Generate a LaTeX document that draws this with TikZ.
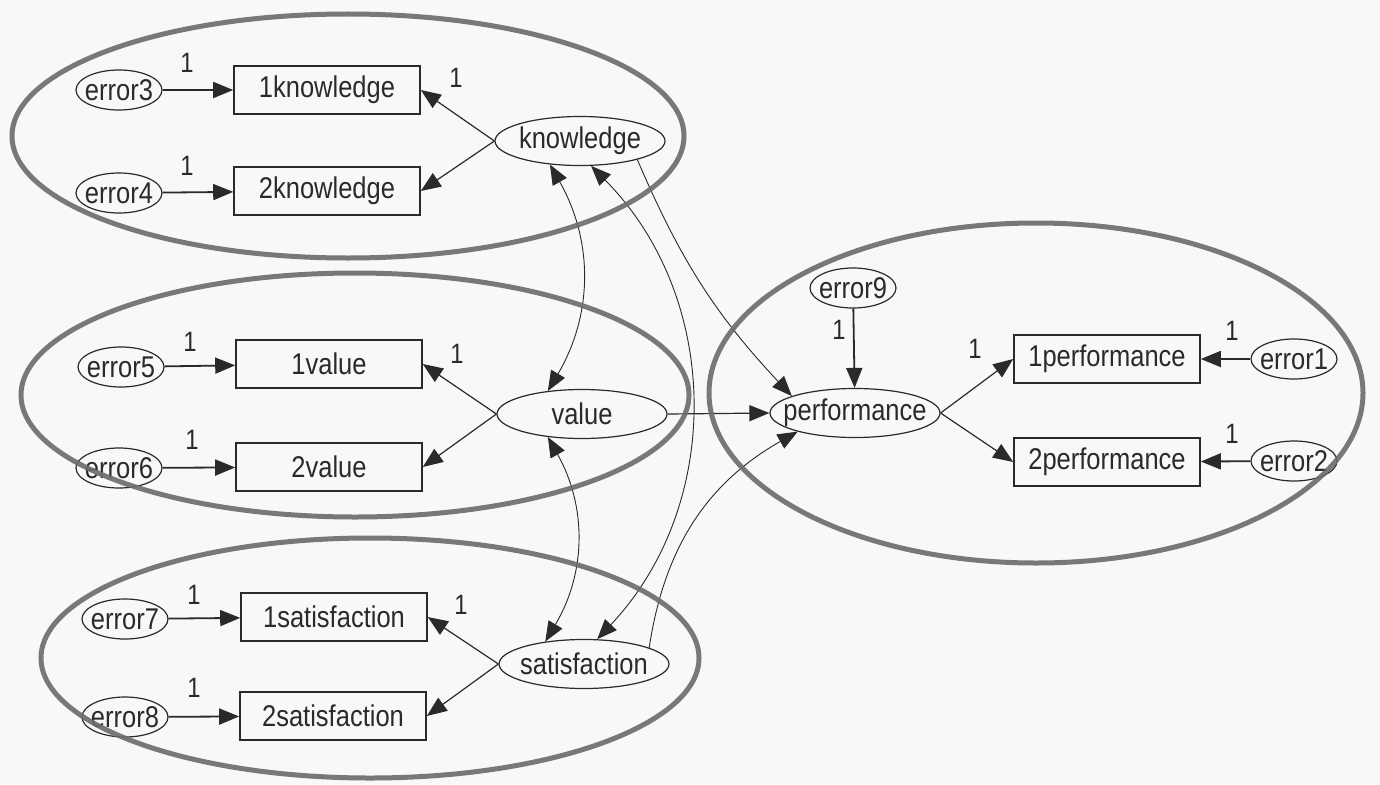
\documentclass[tikz,border=0pt]{standalone}
\usepackage{fontspec}
\setmainfont{Liberation Sans}[FakeStretch=0.85]
\usetikzlibrary{arrows.meta,shapes.geometric}

\definecolor{ink}{HTML}{2A2A2A}
\definecolor{ring}{HTML}{6B6B6B}
\definecolor{paper}{HTML}{F8F8F6}

% text of a fixed-size node: zero width so the shape keeps its set size
\newcommand\lbl[1]{\makebox[0pt]{#1}}
\newcommand\nodefont{\fontsize{30}{33}\selectfont}
\newcommand\onefont{\fontsize{28}{30}\selectfont}

\tikzset{
  err/.style={ellipse, draw=ink, line width=1.2pt, inner sep=0pt,
              minimum width=86pt, minimum height=40pt, text=ink, font=\nodefont},
  obs/.style={rectangle, draw=ink, line width=1.6pt, inner sep=0pt,
              minimum width=186pt, minimum height=48pt, text=ink, font=\nodefont},
  lat/.style={ellipse, draw=ink, line width=1.2pt, inner sep=0pt,
              minimum width=170pt, minimum height=49pt, text=ink, font=\nodefont},
  one/.style={text=ink, font=\onefont, inner sep=0pt},
  tip/.tip={Triangle[length=20pt,width=16pt]},
  lead/.style={draw=ink, line width=1.8pt, -tip},
  load/.style={draw=ink, line width=1.2pt, -tip},
  cov/.style={draw=ink, line width=0.9pt, tip-tip},
  group/.style={draw=ring, line width=5pt, opacity=0.9},
}

\begin{document}
\begin{tikzpicture}[x=1pt,y=-1pt]
\fill[paper] (0,0) rectangle (1380,784);
\useasboundingbox (0,0) rectangle (1380,784);

% knowledge block
\node[err] (e3) at (119,90)  {\lbl{error3}};
\node[err] (e4) at (119,193) {\lbl{error4}};
\node[obs] (k1) at (327,90)  {1knowledge};
\node[obs] (k2) at (327,191) {2knowledge};
\node[lat] (kn) at (580,141) {\lbl{knowledge}};

% value block
\node[err] (e5) at (121,367) {\lbl{error5}};
\node[err] (e6) at (119,468) {\lbl{error6}};
\node[obs] (v1) at (329,364) {1value};
\node[obs] (v2) at (329,467) {2value};
\node[lat] (va) at (582,414) {\lbl{value}};

% satisfaction block
\node[err] (e7) at (125,619) {\lbl{error7}};
\node[err] (e8) at (125,717) {\lbl{error8}};
\node[obs] (s1) at (334,617) {1satisfaction};
\node[obs] (s2) at (333,716) {2satisfaction};
\node[lat] (sa) at (584,664) {\lbl{satisfaction}};

% performance block
\node[err] (e9) at (853,288) {\lbl{error9}};
\node[lat] (pf) at (855,413) {\lbl{performance}};
\node[obs] (p1) at (1107,359) {1performance};
\node[obs] (p2) at (1107,462) {2performance};
\node[err] (e1) at (1294,359) {\lbl{error1}};
\node[err] (e2) at (1294,461) {\lbl{error2}};

% error terms
\draw[lead] (e3) -- (k1);
\draw[lead] (e4) -- (k2);
\draw[lead] (e5) -- (v1);
\draw[lead] (e6) -- (v2);
\draw[lead] (e7) -- (s1);
\draw[lead] (e8) -- (s2);
\draw[lead] (e9) -- (pf);
\draw[lead] (e1) -- (p1);
\draw[lead] (e2) -- (p2);

% loadings
\draw[load] (kn.west) -- (k1.east);
\draw[load] (kn.west) -- (k2.east);
\draw[load] (va.west) -- (v1.east);
\draw[load] (va.west) -- (v2.east);
\draw[load] (sa.west) -- (s1.east);
\draw[load] (sa.west) -- (s2.east);
\draw[load] (pf.east) -- (p1.west);
\draw[load] (pf.east) -- (p2.west);

% structural paths
\draw[load, line width=0.9pt] (kn.-18) to[bend right=10] (pf.165);
\draw[load] (va.east) -- (pf.west);
\draw[load, line width=0.9pt] (sa.14) to[bend left=26] (pf.-162);

% covariances
\draw[cov] (kn.-142) to[bend left=30] (va.146);
\draw[cov] (va.-146) to[bend left=30] (sa.150);
\draw[cov] (kn.-66) to[bend left=44] (sa.62);

% fixed parameters
\node[one] (n3) at (187,63)  {1};
\node[one] (n4) at (187,166) {1};
\node[one] (nk) at (456,78)  {1};
\node[one] (n5) at (190,342) {1};
\node[one] (n6) at (192,440) {1};
\node[one] (nv) at (457,354) {1};
\node[one] (n7) at (194,595) {1};
\node[one] (n8) at (194,688) {1};
\node[one] (ns) at (461,605) {1};
\node[one] (n9) at (839,330) {1};
\node[one] (np) at (975,349) {1};
\node[one] (n1) at (1232,331) {1};
\node[one] (n2) at (1232,434) {1};

% construct outlines
\draw[group] (348,136) ellipse [x radius=336pt, y radius=122pt];
\draw[group] (355,395) ellipse [x radius=334pt, y radius=122pt];
\draw[group] (370,658) ellipse [x radius=329pt, y radius=120pt];
\draw[group] (1036,393) ellipse [x radius=327pt, y radius=170pt];
\end{tikzpicture}
\end{document}
